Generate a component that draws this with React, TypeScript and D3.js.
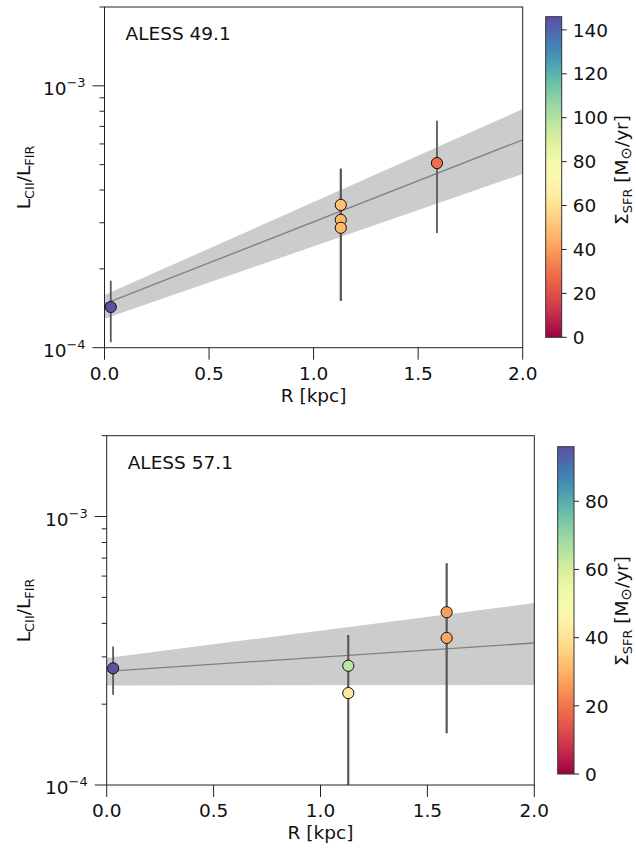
import React from "react";
import * as d3 from "d3";

// ---------- data ----------
const panel1Name = "ALESS 49.1";
const p1R = [0.03, 1.13, 1.13, 1.13, 1.59];
const p1Ratio = [1.43e-4, 3.51e-4, 3.08e-4, 2.87e-4, 5.07e-4];
const p1ErrLo = [1.05e-4, 1.51e-4, 1.51e-4, 1.51e-4, 2.74e-4];
const p1ErrHi = [1.8e-4, 4.82e-4, 4.82e-4, 4.82e-4, 7.35e-4];
const p1Sfr = [146, 50, 47, 48, 29];
const p1Vmax = 146;
const p1CbTicks = [0, 20, 40, 60, 80, 100, 120, 140];
const p1FitR = [0, 2];
const p1Fit = [1.47e-4, 6.22e-4];
const p1BandLo = [1.29e-4, 4.61e-4];
const p1BandHi = [1.59e-4, 8.15e-4];

const panel2Name = "ALESS 57.1";
const p2R = [0.03, 1.13, 1.13, 1.59, 1.59];
const p2Ratio = [2.72e-4, 2.78e-4, 2.2e-4, 4.4e-4, 3.53e-4];
const p2ErrLo = [2.17e-4, 0.8e-4, 0.8e-4, 1.56e-4, 1.56e-4];
const p2ErrHi = [3.28e-4, 3.62e-4, 3.62e-4, 6.7e-4, 6.7e-4];
const p2Sfr = [96, 64, 42, 27, 28];
const p2Vmax = 96;
const p2CbTicks = [0, 20, 40, 60, 80];
const p2FitR = [0, 2];
const p2Fit = [2.65e-4, 3.38e-4];
const p2BandLo = [2.35e-4, 2.36e-4];
const p2BandHi = [2.97e-4, 4.76e-4];

const xTicks = [0, 0.5, 1.0, 1.5, 2.0];
const xDomain = [0, 2];
const yDomain = [1e-4, 2e-3];

const FONT = "DejaVu Sans, sans-serif";
const FS = 18.5;

type Box = { l: number; r: number; t: number; b: number };

function Panel(props: {
  id: string;
  name: string;
  R: number[];
  ratio: number[];
  lo: number[];
  hi: number[];
  sfr: number[];
  vmax: number;
  cbTicks: number[];
  fitR: number[];
  fit: number[];
  bandLo: number[];
  bandHi: number[];
  box: Box;
  cb: Box;
  cbLabelY: number;
}) {
  const { id, name, R, ratio, lo, hi, sfr, vmax, cbTicks, fitR, fit, bandLo, bandHi, box, cb, cbLabelY } = props;
  const x = d3.scaleLinear().domain(xDomain).range([box.l, box.r]);
  const y = d3.scaleLog().domain(yDomain).range([box.b, box.t]);
  const cbScale = d3.scaleLinear().domain([0, vmax]).range([cb.b, cb.t]);
  const color = (v: number) => d3.interpolateSpectral(v / vmax);

  const band = fitR.map((r, i) => ({ r, lo: bandLo[i], hi: bandHi[i] }));
  const areaGen = d3
    .area<{ r: number; lo: number; hi: number }>()
    .x((d) => x(d.r))
    .y0((d) => y(d.lo))
    .y1((d) => y(d.hi));
  const lineGen = d3
    .line<{ r: number; v: number }>()
    .x((d) => x(d.r))
    .y((d) => y(d.v));
  const fitPts = fitR.map((r, i) => ({ r, v: fit[i] }));

  const yTicksAll = y.ticks();
  const isMajor = (v: number) => Math.abs(Math.log10(v) - Math.round(Math.log10(v))) < 1e-6;
  const majors = yTicksAll.filter(isMajor);
  const minors = yTicksAll.filter((v) => !isMajor(v));

  const stops = d3.range(0, 21).map((i) => i / 20);
  const midY = (box.t + box.b) / 2;
  const midX = (box.l + box.r) / 2;
  const axisColor = "#222";

  return (
    <g>
      <defs>
        <clipPath id={`clip-${id}`}>
          <rect x={box.l} y={box.t} width={box.r - box.l} height={box.b - box.t} />
        </clipPath>
        <linearGradient id={`grad-${id}`} x1="0" y1="1" x2="0" y2="0">
          {stops.map((t) => (
            <stop key={t} offset={t} stopColor={d3.interpolateSpectral(t)} />
          ))}
        </linearGradient>
      </defs>
      <g clipPath={`url(#clip-${id})`}>
        <path d={areaGen(band) || ""} fill="#cccccc" />
        <path d={lineGen(fitPts) || ""} fill="none" stroke="#808080" strokeWidth={1.3} />
        {R.map((r, i) => (
          <line
            key={"e" + i}
            x1={x(r)}
            x2={x(r)}
            y1={y(lo[i])}
            y2={y(hi[i])}
            stroke="#5a5a5a"
            strokeWidth={1.8}
          />
        ))}
        {R.map((r, i) => (
          <circle
            key={"c" + i}
            cx={x(r)}
            cy={y(ratio[i])}
            r={5.6}
            fill={color(sfr[i])}
            stroke="#111"
            strokeWidth={1}
          />
        ))}
      </g>
      {/* frame */}
      <rect
        x={box.l}
        y={box.t}
        width={box.r - box.l}
        height={box.b - box.t}
        fill="none"
        stroke={axisColor}
        strokeWidth={1}
      />
      {/* x ticks */}
      {xTicks.map((t) => (
        <g key={"xt" + t}>
          <line x1={x(t)} x2={x(t)} y1={box.b} y2={box.b + 12} stroke={axisColor} strokeWidth={1} />
          <text
            x={x(t)}
            y={box.b + 32}
            textAnchor="middle"
            fontFamily={FONT}
            fontSize={FS}
            fill="#111"
          >
            {d3.format(".1f")(t)}
          </text>
        </g>
      ))}
      {/* y ticks */}
      {majors.map((t) => (
        <g key={"ym" + t}>
          <line x1={box.l - 12} x2={box.l} y1={y(t)} y2={y(t)} stroke={axisColor} strokeWidth={1} />
          <text x={box.l - 19} y={y(t) + 9} textAnchor="end" fontFamily={FONT} fontSize={FS} fill="#111">
            10
            <tspan fontSize={FS * 0.7} dy={-8}>
              {"\u2212" + Math.abs(Math.round(Math.log10(t)))}
            </tspan>
          </text>
        </g>
      ))}
      {minors.map((t) => (
        <line key={"yn" + t} x1={box.l - 5} x2={box.l} y1={y(t)} y2={y(t)} stroke={axisColor} strokeWidth={1} />
      ))}
      {/* title */}
      <text x={box.l + 21} y={box.t + 33} fontFamily={FONT} fontSize={FS} fill="#111">
        {name}
      </text>
      {/* axis labels */}
      <text x={midX} y={box.b + 54} textAnchor="middle" fontFamily={FONT} fontSize={FS} fill="#111">
        R [kpc]
      </text>
      <text
        transform={`translate(30,${midY}) rotate(-90)`}
        textAnchor="middle"
        fontFamily={FONT}
        fontSize={FS}
        fill="#111"
      >
        L
        <tspan fontSize={FS * 0.7} dy={4}>
          CII
        </tspan>
        <tspan dy={-4}>/L</tspan>
        <tspan fontSize={FS * 0.7} dy={4}>
          FIR
        </tspan>
      </text>
      {/* colorbar */}
      <rect x={cb.l} y={cb.t} width={cb.r - cb.l} height={cb.b - cb.t} fill={`url(#grad-${id})`} />
      <rect
        x={cb.l}
        y={cb.t}
        width={cb.r - cb.l}
        height={cb.b - cb.t}
        fill="none"
        stroke="#333"
        strokeWidth={1}
      />
      {cbTicks.map((t) => (
        <g key={"cb" + t}>
          <line x1={cb.r} x2={cb.r + 5} y1={cbScale(t)} y2={cbScale(t)} stroke={axisColor} strokeWidth={1} />
          <text
            x={cb.r + 11}
            y={cbScale(t) + 6.7}
            fontFamily={FONT}
            fontSize={FS}
            fill="#111"
          >
            {t}
          </text>
        </g>
      ))}
      <text
        transform={`translate(628,${cbLabelY}) rotate(-90)`}
        textAnchor="middle"
        fontFamily={FONT}
        fontSize={FS}
        fill="#111"
      >
        Σ
        <tspan fontSize={FS * 0.7} dy={4}>
          SFR
        </tspan>
        <tspan dy={-4}> [M</tspan>
        <tspan fontSize={FS * 0.8} dy={3}>
          ⊙
        </tspan>
        <tspan dy={-3}>/yr]</tspan>
      </text>
    </g>
  );
}

export default function App() {
  return (
    <div style={{ position: "absolute", left: 0, top: 0 }}>
      <svg width={636} height={850} style={{ display: "block", background: "#fff" }}>
        <Panel
          id="p1"
          name={panel1Name}
          R={p1R}
          ratio={p1Ratio}
          lo={p1ErrLo}
          hi={p1ErrHi}
          sfr={p1Sfr}
          vmax={p1Vmax}
          cbTicks={p1CbTicks}
          fitR={p1FitR}
          fit={p1Fit}
          bandLo={p1BandLo}
          bandHi={p1BandHi}
          box={{ l: 104.5, r: 522.7, t: 7, b: 347.7 }}
          cb={{ l: 545.7, r: 561.7, t: 16.7, b: 337.3 }}
          cbLabelY={170}
        />
        <Panel
          id="p2"
          name={panel2Name}
          R={p2R}
          ratio={p2Ratio}
          lo={p2ErrLo}
          hi={p2ErrHi}
          sfr={p2Sfr}
          vmax={p2Vmax}
          cbTicks={p2CbTicks}
          fitR={p2FitR}
          fit={p2Fit}
          bandLo={p2BandLo}
          bandHi={p2BandHi}
          box={{ l: 106.7, r: 534.3, t: 435.7, b: 785 }}
          cb={{ l: 557.7, r: 574, t: 446.7, b: 774 }}
          cbLabelY={611}
        />
      </svg>
    </div>
  );
}
